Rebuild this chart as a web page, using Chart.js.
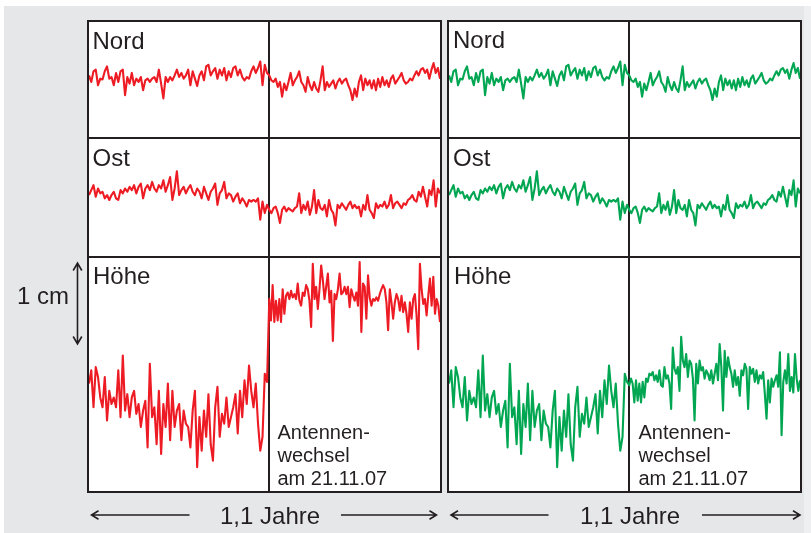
<!DOCTYPE html>
<html><head><meta charset="utf-8">
<script src="https://cdn.jsdelivr.net/npm/chart.js@4.4.1/dist/chart.umd.min.js"></script>
<style>
html,body{margin:0;padding:0;background:#fff;width:811px;height:533px;overflow:hidden}
#bg{position:absolute;left:4px;top:6px;width:800px;height:527px;background:#e6e7e8}
#bg2{position:absolute;left:804px;top:6px;width:7px;height:527px;background:#eeeff0}
.cell{position:absolute;background:#fff}
canvas{position:absolute}
svg{position:absolute;left:0;top:0}
svg text{font-family:"Liberation Sans",Arial,Helvetica,sans-serif;fill:#231f20}
</style></head><body>
<div id="bg"></div><div id="bg2"></div>
<div id="stage"></div>
<svg id="ov" width="811" height="533"></svg>
<script>
// ---- data (values in mm, relative to each row's centre) ----
const rowLabels = ["Nord", "Ost", "Höhe"];
const noteLines = ["Antennen-", "wechsel", "am 21.11.07"];
const spanLabel = "1,1 Jahre";
const scaleLabel = "1 cm";

const nordBefore = [0.5,-0.3,1.0,1.2,-0.7,0.1,0,1.0,1.6,0.1,
0.3,-0.7,0.8,-0.3,1.0,1.2,-1.9,0.3,-0.5,0.8,
-0.7,0.1,-0.3,0.3,-1.3,-0.1,0.1,-0.3,0.1,0.3,
-0.3,1.2,-0.5,-2.3,0.3,-0.3,0.3,-0.1,0.5,1.2,
0.3,0.8,0.1,0.5,1.2,-0.7,1.0,0.1,-0.8,0.5,
1.0,-0.1,1.6,1.8,0.5,1.0,1.4,0.1,1.2,0.5,
1.4,-0.1,1.0,0.3,1.4,1.6,0.5,1.2,0.3,-0.1,
0.3,0.1,1.0,1.6,0.8,1.4,2.2,-0.7,1.8,0.8];
const nordAfter = [0.5,-0.1,-0.3,0.1,-0.9,-0.3,-2.1,-0.5,-1.3,-0.3,
0.8,-0.7,-0.1,0.3,1.0,-0.3,-0.7,-1.5,0.3,-0.7,
-1.3,-0.3,-1.1,-1.5,-0.1,1.6,-1.3,-0.3,-0.9,-0.5,
-0.1,-1.1,-0.3,0.1,-0.5,-0.1,0.1,-0.7,-1.3,-2.5,
-1.1,-2.1,-0.3,0.5,-1.3,0.1,-0.7,-0.1,-1.1,-0.1,
-1.3,0.1,-0.9,0.3,-0.7,-0.1,-0.9,0.1,0.5,-0.5,
-0.1,0.3,0.8,-0.1,-0.5,-0.3,0.1,-0.1,0.5,1.0,
0.5,1.2,1.4,0.8,1.2,0.1,1.2,2.0,0.8,1.4,0.1];

const ostBefore = [0.3,0.9,1.5,0.1,1.1,0.5,0.7,-0.1,0.3,-0.3,
0.3,0.7,-0.1,-0.3,0.9,0.5,1.1,0.7,1.3,0.9,
1.5,0.5,1.3,1.7,-0.1,1.1,1.5,0.9,1.9,1.1,
0.7,1.5,1.1,2.1,0.7,1.5,2.5,-0.3,1.1,3.2,
0.3,0.9,1.3,0.5,1.1,1.5,0.7,0.3,1.1,0.7,
-0.1,1.3,0.5,-0.3,0.7,1.1,1.7,-0.9,0.5,0.9,
1.9,-0.1,0.5,0.3,-0.5,0.1,0.5,-0.7,-0.1,-0.5,
-1.1,-0.3,-0.5,-0.3,-0.5,-0.1,-2.7,-0.5,-1.9,-0.9];
const ostAfter = [-1.5,-1.9,-1.3,-1.1,-1.9,-3.1,-1.5,-1.1,-1.7,-1.3,
-1.5,-1.7,-1.3,-1.1,0.5,-1.9,-0.9,-1.5,-0.5,-2.1,
-1.1,0.9,-1.9,-0.3,-1.3,-1.5,-0.9,-2.3,-0.3,-1.5,
-1.9,-3.4,-0.9,-1.3,-0.7,-1.1,-1.5,-0.9,-0.5,-1.3,
-0.9,-1.3,-1.1,-2.3,-0.9,-1.5,0.3,-1.5,-1.9,-2.5,
-0.7,-1.3,-0.9,-1.1,-0.5,-1.3,-0.9,0.3,-1.3,-0.7,
-0.5,-0.9,-1.3,-0.7,-0.9,-0.3,-0.1,0.3,-0.3,-0.5,
0.7,0.1,1.3,0.1,-1.1,0.9,0.3,2.1,-1.1,1.1,0.5];

const hoeheBefore = [-1.1,0.5,-4.0,0.9,-0.3,-2.8,-4.0,-0.3,-5.6,-2.0,
-3.6,-2.8,-4.0,0.5,-5.2,2.3,-4.4,-2.4,-5.2,-2.8,
-2.0,-4.8,-3.6,-6.4,-4.4,-3.2,-8.9,1.3,-5.2,-4.0,
-8.5,-2.0,-9.7,-3.6,-6.4,-1.1,-8.0,-2.0,-6.4,-4.4,
-3.6,-8.0,-4.4,-6.0,-6.4,-8.9,-4.4,-2.0,-11.3,-5.2,
-9.3,-4.4,-7.6,-2.4,-8.5,-10.5,-4.0,-1.5,-7.6,-4.8,
-6.0,-2.8,-6.4,-5.2,-4.0,-2.4,-7.2,-2.0,-5.2,-0.7,
-3.6,1.1,-2.0,-4.0,-1.1,-6.0,-9.3,-7.6,0.1,-0.9];
// raw heights after the antenna change (red panel)
const hoeheAfterRaw = [9.2,6.6,10.9,6.4,9.0,6.6,9.2,6.4,10.4,7.4,
9.6,10.0,9.2,10.2,9.4,9.8,9.2,11.1,9.0,8.4,
10.0,9.6,10.9,10.4,9.0,5.8,13.5,9.2,10.7,8.0,
10.4,13.3,11.5,9.2,10.7,12.3,8.8,10.2,4.1,9.8,
9.2,10.4,12.3,9.8,10.0,10.7,9.8,10.7,8.2,10.4,
9.6,9.0,10.0,8.4,13.7,5.2,11.1,10.7,6.8,12.1,
9.4,8.4,9.2,9.0,9.4,9.0,9.8,10.4,10.9,10.4,
8.8,5.4,10.4,8.8,6.8,8.8,9.8,9.2,7.8,9.6,
7.6,8.8,7.4,5.2,8.8,6.8,9.2,9.8,7.2,3.1,
13.5,10.4,8.6,9.2,7.2,9.6,11.7,8.4,11.9,7.4,
9.2,8.4,6.4];
// corrected heights after the antenna change (green panel)
const hoeheAfterCorr = [-1.3,-0.5,-1.1,-3.4,-0.7,-3.2,-1.1,-3.4,-0.9,-2.8,
-0.5,-0.9,0.1,-0.1,0.3,-0.7,-0.1,-0.9,0.5,-1.3,
-1.5,0.9,-0.5,-0.1,-1.1,-4.2,3.3,0.7,0.1,0.9,
-2.0,4.6,1.7,0.9,2.5,-0.3,1.7,1.3,-0.5,-5.6,
1.3,-1.1,1.7,0.5,0.9,-0.5,0.5,0.1,-0.7,0.5,
-1.1,0.1,1.3,-0.7,3.7,0.9,-4.4,2.9,-0.3,2.1,
0.9,0.1,-1.5,0.5,-1.3,-0.3,-2.6,0.5,-0.1,1.3,
0.7,-4.2,0.9,0.1,0.7,-0.9,0.5,-1.1,-0.1,-0.5,
0.3,-2.4,-5.4,-0.7,-3.4,-0.5,-1.5,-0.7,-0.1,-1.5,
2.7,-7.4,-0.9,0.5,-1.1,2.5,-2.0,-0.3,-2.2,2.5,
-0.5,-2.0,-0.7];

const YEARS = 1.1;          // length of the time axis
const CHANGE = 0.565;       // antenna change (21.11.07) on the time axis

// ---- layout ----
const PX_PER_MM = 8.2;
const INK = "#231f20";
const panels = [
  {x0: 87, color: "#ed1c24", hoeheAfter: hoeheAfterRaw},
  {x0: 447, color: "#00a651", hoeheAfter: hoeheAfterCorr}
];
const rows = [
  {label: rowLabels[0], y: 22, h: 115, before: nordBefore, after: () => nordAfter},
  {label: rowLabels[1], y: 139, h: 117, before: ostBefore, after: () => ostAfter},
  {label: rowLabels[2], y: 258, h: 233, before: hoeheBefore, after: p => p.hoeheAfter}
];

function series(before, after) {
  const pts = before.map((v, i) => ({x: CHANGE * i / before.length, y: v}));
  after.forEach((v, i) => pts.push({x: CHANGE + (YEARS - CHANGE) * i / (after.length - 1), y: v}));
  return pts;
}

const changeLine = {
  id: "changeLine",
  beforeDatasetsDraw(chart) {
    const {ctx, chartArea} = chart;
    const px = Math.round(chart.scales.x.getPixelForValue(CHANGE));
    ctx.save();
    ctx.fillStyle = INK;
    ctx.fillRect(px - 1, chartArea.top, 2, chartArea.bottom - chartArea.top);
    ctx.restore();
  }
};

const stage = document.getElementById("stage");
panels.forEach(p => {
  rows.forEach(r => {
    const cell = document.createElement("div");
    cell.className = "cell";
    cell.style.left = (p.x0 + 2) + "px"; cell.style.top = r.y + "px";
    cell.style.width = "351px"; cell.style.height = r.h + "px";
    stage.appendChild(cell);
    const cv = document.createElement("canvas");
    cv.width = 351; cv.height = r.h;
    cv.style.left = (p.x0 + 2) + "px"; cv.style.top = r.y + "px";
    stage.appendChild(cv);
    const half = r.h / 2 / PX_PER_MM;
    new Chart(cv, {
      type: "line",
      data: {datasets: [{data: series(r.before, r.after(p)), borderColor: p.color, borderWidth: 2.1,
        pointRadius: 0, tension: 0, fill: false, borderJoinStyle: "round", clip: 2}]},
      options: {
        responsive: false, animation: false, devicePixelRatio: 1, events: [],
        layout: {padding: 0},
        plugins: {legend: {display: false}, tooltip: {enabled: false}, title: {display: false}},
        scales: {
          x: {type: "linear", display: false, min: 0, max: YEARS},
          y: {type: "linear", display: false, min: -half, max: half}
        }
      },
      plugins: [changeLine]
    });
  });
});

// ---- frame, labels, arrows ----
const NS = "http://www.w3.org/2000/svg";
const ov = document.getElementById("ov");
function el(tag, attrs, text) {
  const e = document.createElementNS(NS, tag);
  for (const k in attrs) e.setAttribute(k, attrs[k]);
  if (text !== undefined) e.textContent = text;
  ov.appendChild(e);
  return e;
}
panels.forEach(p => {
  const x = p.x0;
  el("rect", {x: x, y: 20, width: 355, height: 2, fill: INK});
  el("rect", {x: x, y: 137, width: 355, height: 2, fill: INK});
  el("rect", {x: x, y: 256, width: 355, height: 2, fill: INK});
  el("rect", {x: x, y: 491, width: 355, height: 2, fill: INK});
  el("rect", {x: x, y: 20, width: 2, height: 473, fill: INK});
  el("rect", {x: x + 353, y: 20, width: 2, height: 473, fill: INK});
});
const labelPos = [[[92.5, 48.5], [92.5, 166], [93, 284.3]], [[453, 47.5], [453, 165.5], [454, 284.3]]];
panels.forEach((p, pi) => {
  rows.forEach((r, ri) => {
    el("text", {x: labelPos[pi][ri][0], y: labelPos[pi][ri][1], "font-size": 24}, r.label);
  });
  const nx = pi === 0 ? 277.5 : 638.5;
  noteLines.forEach((t, i) => el("text", {x: nx, y: 438.5 + i * 23.3, "font-size": 20}, t));
});
// 1 cm scale arrow
el("text", {x: 17, y: 304, "font-size": 24}, scaleLabel);
const ar = {stroke: INK, "stroke-width": 1.6, fill: "none"};
el("path", Object.assign({d: "M77.5 263 L77.5 344 M73.2 270.5 L77.5 263 L81.8 270.5 M73.2 336.5 L77.5 344 L81.8 336.5"}, ar));
// time span arrows
[[91.5, 189.5, 341, 436.5, 220], [451, 548.5, 702, 800, 580]].forEach(a => {
  const y = 515;
  el("path", Object.assign({d: `M${a[0]} ${y} L${a[1]} ${y} M${a[0] + 7} ${y - 4.3} L${a[0]} ${y} L${a[0] + 7} ${y + 4.3}`}, ar));
  el("path", Object.assign({d: `M${a[2]} ${y} L${a[3]} ${y} M${a[3] - 7} ${y - 4.3} L${a[3]} ${y} L${a[3] - 7} ${y + 4.3}`}, ar));
  el("text", {x: a[4], y: 524, "font-size": 24}, spanLabel);
});
</script>
</body></html>
